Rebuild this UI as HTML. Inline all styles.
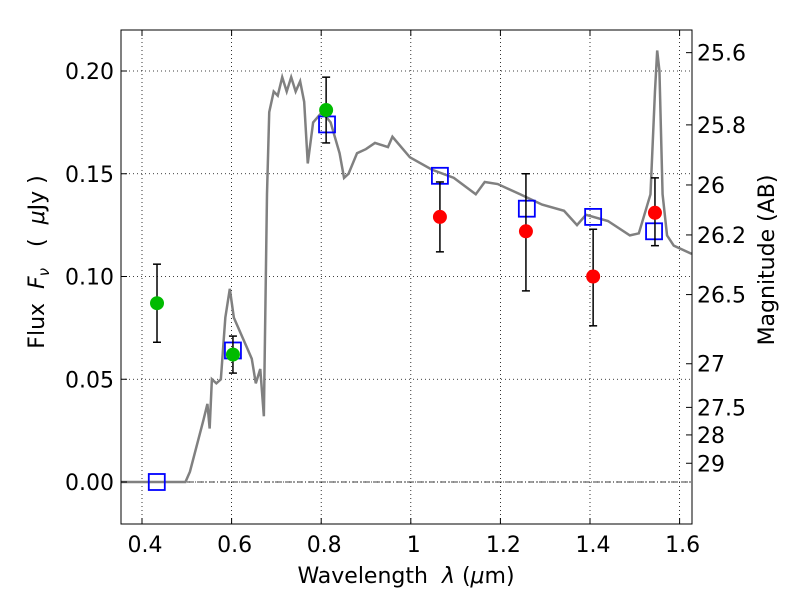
<!DOCTYPE html>
<html><head><meta charset="utf-8"><style>
body{margin:0;background:#fff;width:800px;height:600px;overflow:hidden}
svg text{font-family:"DejaVu Sans","Liberation Sans",sans-serif;fill:#000}
</style></head><body>
<svg id="chart" width="800" height="600" xmlns="http://www.w3.org/2000/svg">
<g id="grid"></g>
<g id="marks"></g>
<rect x="121" y="30" width="571" height="494" fill="none" stroke="#000" stroke-width="1"/>
<g id="axes"></g>
<text x="406" y="583" font-size="22" text-anchor="middle" xml:space="preserve">Wavelength  <tspan font-style="italic">λ</tspan> (<tspan font-style="italic">μ</tspan>m)</text>
<text transform="translate(44,262) rotate(-90)" font-size="22" text-anchor="middle" xml:space="preserve">Flux  <tspan font-style="italic">F<tspan font-size="15" dy="5">ν</tspan></tspan><tspan dy="-5">   (  <tspan font-style="italic">μ</tspan>Jy )</tspan></text>
<text transform="translate(774,260) rotate(-90)" font-size="22" text-anchor="middle">Magnitude (AB)</text>
</svg>
<script>
const xTicks=[0.4,0.6,0.8,1.0,1.2,1.4,1.6];
const xTickLabels=["0.4","0.6","0.8","1","1.2","1.4","1.6"];
const yTicks=[0,0.05,0.10,0.15,0.20];
const yTickLabels=["0.00","0.05","0.10","0.15","0.20"];
const magTicks=[25.6,25.8,26,26.2,26.5,27,27.5,28,29];
const magTickLabels=["25.6","25.8","26","26.2","26.5","27","27.5","28","29"];
const sedWave=[0.353,0.497,0.507,0.537,0.546,0.551,0.556,0.566,0.576,0.586,0.596,0.605,0.615,0.625,0.635,0.645,0.654,0.664,0.672,0.679,0.684,0.694,0.703,0.713,0.723,0.733,0.743,0.753,0.762,0.770,0.782,0.802,0.821,0.841,0.851,0.861,0.880,0.900,0.920,0.949,0.959,0.998,1.047,1.096,1.145,1.165,1.194,1.244,1.293,1.342,1.371,1.391,1.440,1.489,1.509,1.535,1.545,1.550,1.555,1.562,1.572,1.587,1.627];
const sedFlux=[0,0,0.005,0.03,0.038,0.026,0.05,0.048,0.05,0.08,0.094,0.08,0.075,0.07,0.065,0.06,0.048,0.055,0.032,0.14,0.18,0.19,0.188,0.197,0.19,0.197,0.19,0.195,0.185,0.155,0.175,0.18,0.175,0.16,0.148,0.15,0.16,0.162,0.165,0.163,0.168,0.158,0.152,0.148,0.14,0.146,0.145,0.14,0.135,0.132,0.125,0.13,0.127,0.12,0.121,0.14,0.19,0.21,0.2,0.14,0.12,0.115,0.111];
const greenWave=[0.4335,0.603,0.811];
const greenFlux=[0.087,0.062,0.181];
const greenLo=[0.068,0.053,0.165];
const greenHi=[0.106,0.071,0.197];
const redWave=[1.065,1.257,1.407,1.545];
const redFlux=[0.129,0.122,0.100,0.131];
const redLo=[0.112,0.093,0.076,0.115];
const redHi=[0.146,0.150,0.123,0.148];
const modelWave=[0.433,0.603,0.813,1.065,1.259,1.407,1.543];
const modelFlux=[0,0.064,0.174,0.149,0.133,0.129,0.122];

const X=l=>142+(l-0.4)*448;
const Y=v=>482-v*2055;
const NS="http://www.w3.org/2000/svg";
function mk(parent,tag,attrs){const e=document.createElementNS(NS,tag);for(const k in attrs)e.setAttribute(k,attrs[k]);document.getElementById(parent).appendChild(e);return e;}

xTicks.forEach((t,i)=>{
  const g=mk('grid','line',{x1:X(t),x2:X(t),y1:30,y2:524,stroke:'#000','stroke-dasharray':'1,3','stroke-width':0.8});
  
  
  const a=mk('axes','line',{x1:X(t),x2:X(t),y1:524,y2:518,stroke:'#000'});
  
  
  const b=mk('axes','line',{x1:X(t),x2:X(t),y1:30,y2:36,stroke:'#000'});
  
  
  const tx=mk('axes','text',{x:X(t)+3,y:552,'font-size':22,'text-anchor':'middle'});
  tx.textContent=xTickLabels[i];
  
  
});
yTicks.forEach((t,i)=>{
  const g=mk('grid','line',{x1:121,x2:692,y1:Y(t),y2:Y(t),stroke:'#000','stroke-dasharray':'1,3','stroke-width':0.8});
  
  
  const a=mk('axes','line',{x1:121,x2:127,y1:Y(t),y2:Y(t),stroke:'#000'});
  
  
  const tx=mk('axes','text',{x:114,y:Y(t)+8,'font-size':22,'text-anchor':'end'});
  tx.textContent=yTickLabels[i];
  
  
});
magTicks.forEach((m,i)=>{
  const y=Y(Math.pow(10,(23.9-m)/2.5));
  const a=mk('axes','line',{x1:686,x2:692,y1:y,y2:y,stroke:'#000'});
  
  
  const tx=mk('axes','text',{x:697,y:y+8,'font-size':22});
  tx.textContent=magTickLabels[i];
  
  
});
const zl=mk('marks','line',{x1:121,x2:692,y1:Y(0),y2:Y(0),stroke:'#000','stroke-dasharray':'6,2,1,2','stroke-width':0.7});


const sed=mk('marks','polyline',{points:sedWave.map((w,i)=>X(w)+','+Y(sedFlux[i])).join(' '),fill:'none',stroke:'#808080','stroke-width':2.5});


function pts(wv,fl,lo,hi,color,name){
  wv.forEach((w,i)=>{
    const e=mk('marks','line',{x1:X(w),x2:X(w),y1:Y(lo[i]),y2:Y(hi[i]),stroke:'#000','stroke-width':1.5});
    
    
    [lo[i],hi[i]].forEach(v=>{
      const c=mk('marks','line',{x1:X(w)-4,x2:X(w)+4,y1:Y(v),y2:Y(v),stroke:'#000','stroke-width':1.5});
      
      
    });
    const p=mk('marks','circle',{cx:X(w),cy:Y(fl[i]),r:7,fill:color});
    
    
  });
}
modelWave.forEach((w,i)=>{
  const r=mk('marks','rect',{x:X(w)-8,y:Y(modelFlux[i])-8,width:16,height:16,fill:'none',stroke:'#0000ff','stroke-width':1.8});
  
  
});
pts(greenWave,greenFlux,greenLo,greenHi,'#00bb00','green');
pts(redWave,redFlux,redLo,redHi,'#ff0000','red');
</script>
</body></html>
